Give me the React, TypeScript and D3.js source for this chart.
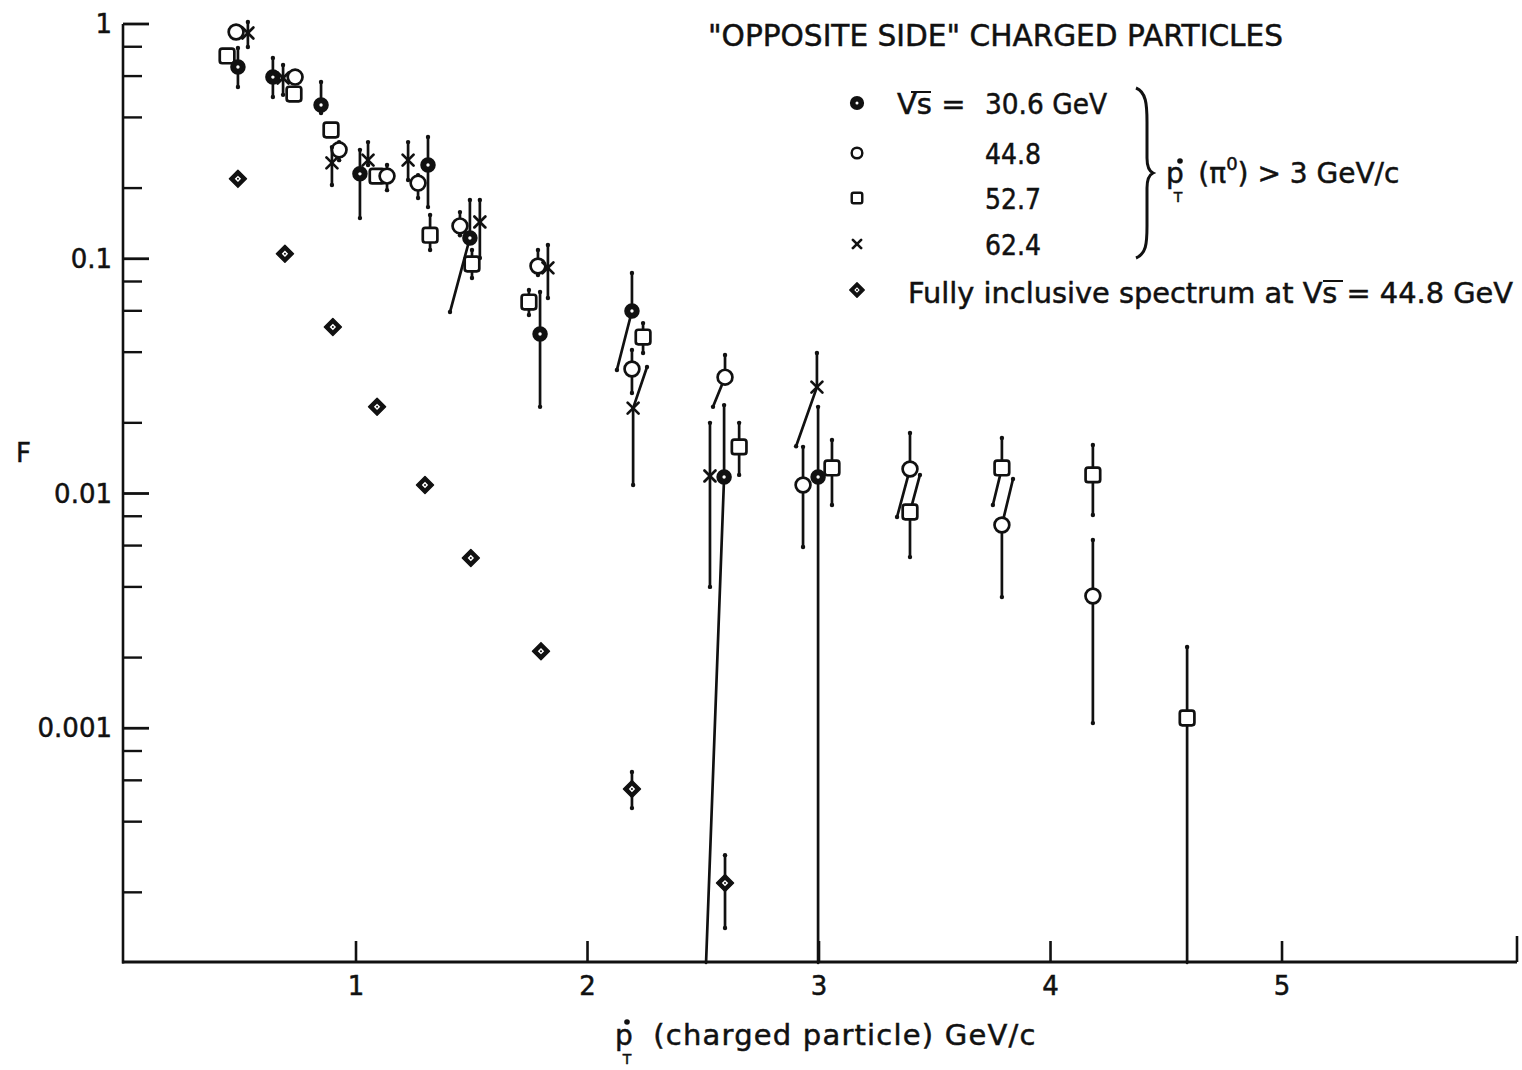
import React from "react";
import * as d3 from "d3";

type P = { pt: number; f: number; hi?: number; lo?: number; hiPt?: number; loPt?: number };

// sqrt(s) = 30.6 GeV (filled circles)
const S306: P[] = [
  { pt: 0.49, f: 0.656, hi: 0.79, lo: 0.539 },
  { pt: 0.641, f: 0.594, hi: 0.717, lo: 0.489 },
  { pt: 0.849, f: 0.452, hi: 0.566, lo: 0.418 },
  { pt: 1.017, f: 0.23, hi: 0.291, lo: 0.149 },
  { pt: 1.311, f: 0.251, hi: 0.33, lo: 0.166 },
  { pt: 1.492, f: 0.1226, hi: 0.178, lo: 0.0593, loPt: 1.406 },
  { pt: 1.795, f: 0.0478, hi: 0.0722, lo: 0.0234 },
  { pt: 2.192, f: 0.0599, hi: 0.0869, lo: 0.0336, loPt: 2.127 },
  { pt: 2.59, f: 0.01176, hi: 0.0238, lo: 0.0001, loPt: 2.512 },
  { pt: 2.996, f: 0.01176, hi: 0.0234, lo: 0.0001 },
];

// sqrt(s) = 44.8 GeV (open circles)
const S448: P[] = [
  { pt: 0.482, f: 0.925 },
  { pt: 0.737, f: 0.594 },
  { pt: 0.927, f: 0.291, hi: 0.314, lo: 0.263 },
  { pt: 1.134, f: 0.225, hi: 0.251, lo: 0.196 },
  { pt: 1.268, f: 0.21, hi: 0.227, lo: 0.1815 },
  { pt: 1.449, f: 0.138, hi: 0.158, lo: 0.126 },
  { pt: 1.786, f: 0.0931, hi: 0.109, lo: 0.0853 },
  { pt: 2.192, f: 0.0339, hi: 0.0409, lo: 0.0268 },
  { pt: 2.594, f: 0.0313, hi: 0.0389, lo: 0.0234, loPt: 2.542 },
  { pt: 2.931, f: 0.01087, hi: 0.0158, lo: 0.00592 },
  { pt: 3.393, f: 0.01272, hi: 0.0181, lo: 0.00794, loPt: 3.337 },
  { pt: 3.79, f: 0.00734, hi: 0.01153, lo: 0.00362, hiPt: 3.838 },
  { pt: 4.183, f: 0.00366, hi: 0.00634, lo: 0.001052 },
];

// sqrt(s) = 52.7 GeV (open squares)
const S527: P[] = [
  { pt: 0.443, f: 0.731 },
  { pt: 0.732, f: 0.503 },
  { pt: 0.892, f: 0.3535 },
  { pt: 1.091, f: 0.225 },
  { pt: 1.32, f: 0.126, hi: 0.1536, lo: 0.109 },
  { pt: 1.501, f: 0.095, hi: 0.109, lo: 0.0828 },
  { pt: 1.747, f: 0.0654, hi: 0.0736, lo: 0.0576 },
  { pt: 2.24, f: 0.0464, hi: 0.0532, lo: 0.0397 },
  { pt: 2.655, f: 0.0158, hi: 0.02, lo: 0.012 },
  { pt: 3.056, f: 0.01285, hi: 0.0169, lo: 0.00893 },
  { pt: 3.393, f: 0.00834, hi: 0.012, lo: 0.00536, hiPt: 3.436 },
  { pt: 3.79, f: 0.01285, hi: 0.01723, lo: 0.00893, loPt: 3.751 },
  { pt: 4.183, f: 0.012, hi: 0.0161, lo: 0.0081 },
  { pt: 4.59, f: 0.001106, hi: 0.00222, lo: 0.0001 },
];

// sqrt(s) = 62.4 GeV (crosses)
const S624: P[] = [
  { pt: 0.533, f: 0.915, hi: 1.02, lo: 0.798 },
  { pt: 0.685, f: 0.589, hi: 0.669, lo: 0.499 },
  { pt: 0.896, f: 0.256, hi: 0.299, lo: 0.206 },
  { pt: 1.052, f: 0.263, hi: 0.314, lo: 0.251 },
  { pt: 1.225, f: 0.263, hi: 0.314, lo: 0.2166 },
  { pt: 1.535, f: 0.1435, hi: 0.178, lo: 0.1007 },
  { pt: 1.829, f: 0.0914, hi: 0.1145, lo: 0.068 },
  { pt: 2.197, f: 0.0231, hi: 0.0346, lo: 0.01087, hiPt: 2.257 },
  { pt: 2.529, f: 0.01188, hi: 0.02, lo: 0.004 },
  { pt: 2.991, f: 0.0284, hi: 0.0397, lo: 0.0159, loPt: 2.901 },
];

// Fully inclusive spectrum at sqrt(s) = 44.8 GeV (diamonds)
const INCL: P[] = [
  { pt: 0.49, f: 0.219 },
  { pt: 0.693, f: 0.105 },
  { pt: 0.9, f: 0.0512 },
  { pt: 1.091, f: 0.0234 },
  { pt: 1.298, f: 0.01087 },
  { pt: 1.496, f: 0.00531 },
  { pt: 1.799, f: 0.00213 },
  { pt: 2.192, f: 0.000551, hi: 0.000651, lo: 0.000457 },
  { pt: 2.594, f: 0.000219, hi: 0.000288, lo: 0.000141 },
];

const X_TICKS = [1, 2, 3, 4, 5];
const Y_MAJOR = [1, 0.1, 0.01, 0.001];
const Y_MAJOR_LABELS = ["1", "0.1", "0.01", "0.001"];
const Y_MINOR_MULT = [2, 4, 6, 8];
const Y_DECADES = [0.0001, 0.001, 0.01, 0.1];

const W = 1522;
const H = 1070;
const FONT = "'DejaVu Sans', 'Liberation Sans', sans-serif";
const INK = "#111";

const x = d3.scaleLinear().domain([0, 6.015]).range([124.5, 1517]);
const y = d3.scaleLog().domain([0.0001, 1]).range([963, 24]);
const cy = (v: number) => Math.min(963, y(v));

type Kind = "filled" | "open" | "square" | "cross" | "diamond";

function Marker({ kind, cx, cyv, s = 1 }: { kind: Kind; cx: number; cyv: number; s?: number }) {
  const sw = 2.7;
  if (kind === "filled")
    return (
      <g>
        <circle cx={cx} cy={cyv} r={6.4 * s} fill={INK} stroke={INK} strokeWidth={sw} />
        <circle cx={cx} cy={cyv} r={1.7 * s} fill="#fff" />
      </g>
    );
  if (kind === "open")
    return <circle cx={cx} cy={cyv} r={7.4 * s} fill="#fff" stroke={INK} strokeWidth={sw * (s < 1 ? 0.9 : 1)} />;
  if (kind === "square") {
    const h = 7.3 * s;
    return (
      <rect x={cx - h} y={cyv - h} width={2 * h} height={2 * h} rx={2.5 * s} fill="#fff" stroke={INK} strokeWidth={sw * (s < 1 ? 0.9 : 1)} />
    );
  }
  if (kind === "cross") {
    const h = 5.5 * s;
    return (
      <g stroke={INK} strokeWidth={sw} strokeLinecap="round">
        <line x1={cx - h} y1={cyv - h} x2={cx + h} y2={cyv + h} />
        <line x1={cx - h} y1={cyv + h} x2={cx + h} y2={cyv - h} />
      </g>
    );
  }
  const h = 8.5 * s;
  const hi = 3.2 * s;
  return (
    <g>
      <path d={`M${cx},${cyv - h}L${cx + h},${cyv}L${cx},${cyv + h}L${cx - h},${cyv}Z`} fill={INK} stroke={INK} strokeWidth={1.5} strokeLinejoin="round" />
      <path d={`M${cx},${cyv - hi}L${cx + hi},${cyv}L${cx},${cyv + hi}L${cx - hi},${cyv}Z`} fill="#fff" />
      <circle cx={cx} cy={cyv} r={1} fill={INK} />
    </g>
  );
}

function Series({ data, kind }: { data: P[]; kind: Kind }) {
  return (
    <g>
      {data.map((d, i) => {
        const px = x(d.pt);
        const py = y(d.f);
        return (
          <g key={i}>
            {d.hi !== undefined && (
              <g>
                <line x1={px} y1={py} x2={x(d.hiPt ?? d.pt)} y2={cy(d.hi)} stroke={INK} strokeWidth={2.7} strokeLinecap="round" />
                <circle cx={x(d.hiPt ?? d.pt)} cy={cy(d.hi)} r={2.2} fill={INK} />
              </g>
            )}
            {d.lo !== undefined && (
              <g>
                <line x1={px} y1={py} x2={x(d.loPt ?? d.pt)} y2={cy(d.lo)} stroke={INK} strokeWidth={2.7} strokeLinecap="round" />
                {d.lo > 0.0001 && <circle cx={x(d.loPt ?? d.pt)} cy={cy(d.lo)} r={2.2} fill={INK} />}
              </g>
            )}
            <Marker kind={kind} cx={px} cyv={py} />
          </g>
        );
      })}
    </g>
  );
}

const textStyle = { fontFamily: FONT, fill: INK, stroke: INK, strokeWidth: 0.5 } as const;

export default function App() {
  const yMinors: number[] = [];
  Y_DECADES.forEach((d) => Y_MINOR_MULT.forEach((m) => yMinors.push(d * m)));
  const bottom = 962;
  const left = 123;

  return (
    <svg width={W} height={H} style={{ position: "absolute", left: 0, top: 0, background: "#fff" }}>
      <rect width={W} height={H} fill="#fff" />
      {/* axes */}
      <line x1={left} y1={24} x2={left} y2={bottom + 1.5} stroke={INK} strokeWidth={2.6} />
      <line x1={left - 1} y1={bottom} x2={1517} y2={bottom} stroke={INK} strokeWidth={3.2} />
      <line x1={1517} y1={bottom} x2={1517} y2={936} stroke={INK} strokeWidth={2.6} />
      {Y_MAJOR.map((v, i) => (
        <g key={"ym" + i}>
          <line x1={left} x2={left + 26} y1={y(v)} y2={y(v)} stroke={INK} strokeWidth={2.8} />
          <text x={112} y={y(v) + 9} textAnchor="end" fontSize={26} style={textStyle}>
            {Y_MAJOR_LABELS[i]}
          </text>
        </g>
      ))}
      {yMinors.map((v, i) => (
        <line key={"yn" + i} x1={left} x2={left + 19} y1={y(v)} y2={y(v)} stroke={INK} strokeWidth={2.4} />
      ))}
      {X_TICKS.map((t) => (
        <g key={"xt" + t}>
          <line x1={x(t)} x2={x(t)} y1={bottom} y2={bottom - 21} stroke={INK} strokeWidth={2.6} />
          <text x={x(t)} y={995} textAnchor="middle" fontSize={26} style={textStyle}>
            {t}
          </text>
        </g>
      ))}
      {/* axis titles */}
      <text x={16} y={462} fontSize={26} style={textStyle}>
        F
      </text>
      <circle cx={627} cy={1022} r={2.8} fill={INK} />
      <text x={615} y={1045} fontSize={28} style={textStyle}>
        p
        <tspan dx={-10} dy={19} fontSize={14}>T</tspan>
        <tspan dx={22} dy={-19} fontSize={29} letterSpacing={1.2}>(charged particle) GeV/c</tspan>
      </text>

      {/* data */}
      <Series data={INCL} kind="diamond" />
      <Series data={S527} kind="square" />
      <Series data={S448} kind="open" />
      <Series data={S306} kind="filled" />
      <Series data={S624} kind="cross" />

      {/* title & legend */}
      <text x={708} y={46} fontSize={30} style={textStyle} textLength={575} lengthAdjust="spacingAndGlyphs">
        "OPPOSITE SIDE" CHARGED PARTICLES
      </text>
      <Marker kind="filled" cx={857} cyv={103} s={0.9} />
      <Marker kind="open" cx={857} cyv={153} s={0.72} />
      <Marker kind="square" cx={857} cyv={198} s={0.72} />
      <Marker kind="cross" cx={857} cyv={244} s={0.75} />
      <Marker kind="diamond" cx={857} cyv={290} s={0.85} />

      <line x1={911} y1={92} x2={931} y2={92} stroke={INK} strokeWidth={2} />
      <text x={897} y={114} fontSize={29} style={textStyle}>
        Vs =
      </text>
      <text x={985} y={114} fontSize={29} style={textStyle} textLength={122} lengthAdjust="spacingAndGlyphs">30.6 GeV</text>
      <text x={985} y={164} fontSize={29} style={textStyle} textLength={56} lengthAdjust="spacingAndGlyphs">44.8</text>
      <text x={985} y={209} fontSize={29} style={textStyle} textLength={56} lengthAdjust="spacingAndGlyphs">52.7</text>
      <text x={985} y={255} fontSize={29} style={textStyle} textLength={56} lengthAdjust="spacingAndGlyphs">62.4</text>
      <path
        d="M1136,88 C1146,92 1147,104 1147,122 L1147,158 C1147,166 1149,171 1153,173 C1149,175 1147,180 1147,188 L1147,226 C1147,244 1146,254 1136,258"
        fill="none"
        stroke={INK}
        strokeWidth={3}
      />
      <circle cx={1180} cy={161} r={2.8} fill={INK} />
      <text x={1166} y={183} fontSize={28} style={textStyle}>
        p
        <tspan dx={-10} dy={19} fontSize={14}>T</tspan>
        <tspan dx={16} dy={-19}>(π</tspan>
        <tspan dy={-13} fontSize={18}>0</tspan>
        <tspan dy={13}>) &gt; 3 GeV/c</tspan>
      </text>

      <line x1={1323} y1={281} x2={1343} y2={281} stroke={INK} strokeWidth={2} />
      <text x={908} y={303} fontSize={29} style={textStyle} textLength={605} lengthAdjust="spacingAndGlyphs">
        Fully inclusive spectrum at Vs = 44.8 GeV
      </text>
    </svg>
  );
}
